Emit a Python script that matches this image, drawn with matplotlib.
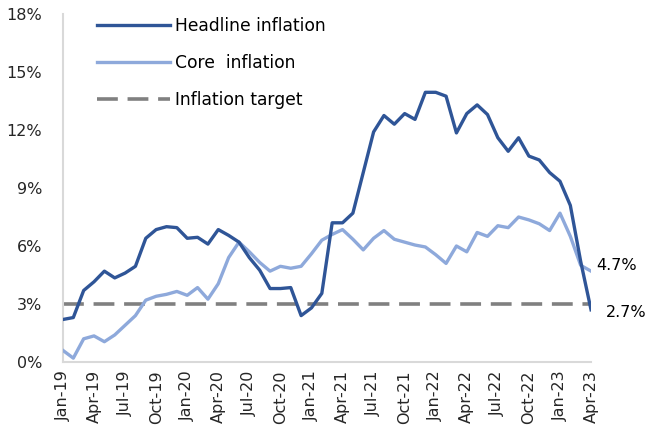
import matplotlib
matplotlib.use('Agg')
import matplotlib.pyplot as plt
import matplotlib.ticker as mticker
import numpy as np

plt.rcParams.update({'font.family': ['DejaVu Sans'], 'font.size': 11.5,
                     'lines.scale_dashes': False})

# monthly, Jan-19 .. Apr-23
months = ['Jan', 'Feb', 'Mar', 'Apr', 'May', 'Jun', 'Jul', 'Aug', 'Sep', 'Oct', 'Nov', 'Dec']
dates = [f'{months[i % 12]}-{19 + i // 12}' for i in range(52)]

headline = [2.2, 2.3, 3.7, 4.15, 4.7, 4.35, 4.6, 4.95, 6.4, 6.85, 7.0, 6.95,
            6.4, 6.45, 6.1, 6.85, 6.55, 6.2, 5.4, 4.75, 3.8, 3.8, 3.85, 2.4,
            2.8, 3.55, 7.2, 7.2, 7.7, 9.8, 11.9, 12.75, 12.3, 12.85, 12.55, 13.95,
            13.95, 13.75, 11.85, 12.85, 13.3, 12.8, 11.6, 10.9, 11.6, 10.65, 10.45, 9.8,
            9.35, 8.1, 5.2, 2.7]
core = [0.6, 0.2, 1.2, 1.35, 1.05, 1.4, 1.9, 2.4, 3.2, 3.4, 3.5, 3.65,
        3.45, 3.85, 3.25, 4.05, 5.4, 6.2, 5.7, 5.15, 4.7, 4.95, 4.85, 4.95,
        5.6, 6.3, 6.6, 6.85, 6.35, 5.8, 6.4, 6.8, 6.35, 6.2, 6.05, 5.95,
        5.55, 5.1, 6.0, 5.7, 6.7, 6.5, 7.05, 6.95, 7.5, 7.35, 7.15, 6.8,
        7.7, 6.5, 5.0, 4.7]
target = [3.0] * len(dates)

fig = plt.figure(figsize=(6.49, 4.38), dpi=100)
ax = fig.add_axes([0.097, 0.1735, 0.8137, 0.7945])
x = np.arange(len(dates))

ax.plot(x, headline, color='#2F5597', lw=2.4, label='Headline inflation', zorder=4)
ax.plot(x, core, color='#8EA9DB', lw=2.4, label='Core  inflation', zorder=3)
ax.plot(x, target, color='#808080', lw=2.6, dashes=(15, 7), label='Inflation target', zorder=2)

ax.set_xlim(0, len(dates) - 1)
ax.set_ylim(0, 18)
ax.yaxis.set_major_locator(mticker.MultipleLocator(3))
ax.yaxis.set_major_formatter(mticker.FuncFormatter(lambda v, p: f'{v:.0f}%'))
ax.set_xticks(x[::3])
ax.set_xticklabels(dates[::3], rotation=90)
ax.tick_params(axis='both', length=0, labelsize=11.5, colors='#262626')
ax.tick_params(axis='y', pad=15)
ax.tick_params(axis='x', pad=6)

for s in ['top', 'right']:
    ax.spines[s].set_visible(False)
for s in ['left', 'bottom']:
    ax.spines[s].set_color('#D9D9D9')
    ax.spines[s].set_linewidth(1.5)

ax.annotate(f'{core[-1]:.1f}%', xy=(x[-1], core[-1]), xytext=(4, 4),
            textcoords='offset points', va='center', ha='left', annotation_clip=False)
ax.annotate(f'{headline[-1]:.1f}%', xy=(x[-1], headline[-1]), xytext=(11, -2),
            textcoords='offset points', va='center', ha='left', annotation_clip=False)

ax.legend(loc='upper left', bbox_to_anchor=(0.035, 1.035), frameon=False, handlelength=4.3,
          labelspacing=1.12, handletextpad=0.3, fontsize=12.3)

fig.savefig('out.png', dpi=100)
